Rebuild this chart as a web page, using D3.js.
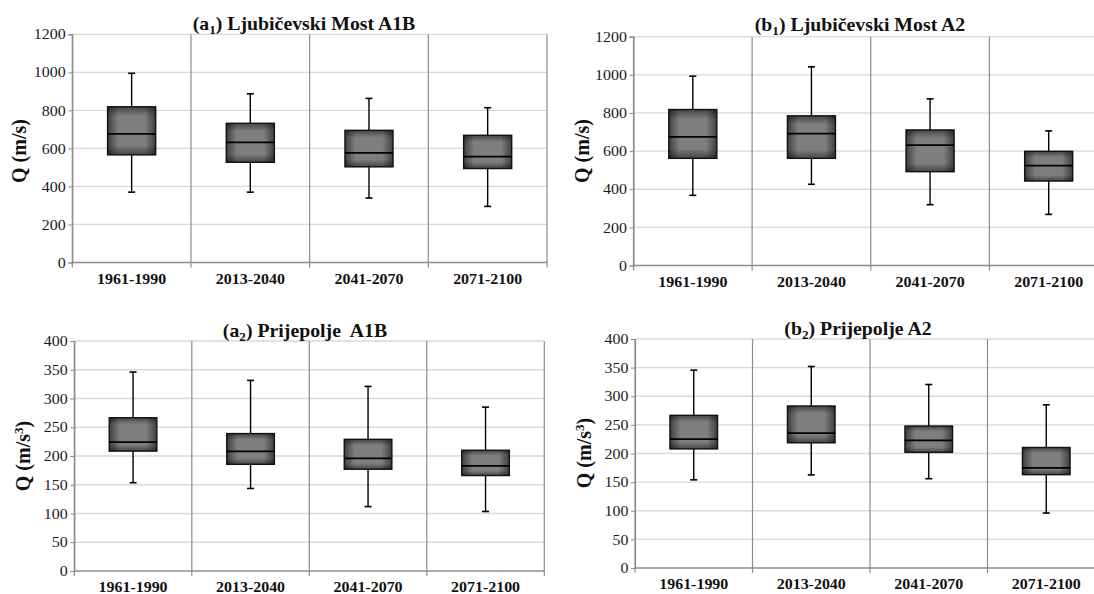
<!DOCTYPE html>
<html>
<head>
<meta charset="utf-8">
<script src="https://cdn.jsdelivr.net/npm/d3@7"></script>
<style>
  html, body { margin: 0; padding: 0; background: #fff; }
  svg { display: block; }
  svg text { font-family: "Liberation Serif", "Times New Roman", serif; }
</style>
</head>
<body>
<svg id="chart" width="1094" height="594"></svg>
<script>
// ---- data ----
const categories = ["1961-1990", "2013-2040", "2041-2070", "2071-2100"];

const a1Min = [370, 370, 339, 295];
const a1Q1  = [566, 527, 503, 494];
const a1Med = [676, 632, 576, 557];
const a1Q3  = [819, 732, 695, 669];
const a1Max = [995, 887, 863, 814];

const b1Min = [368, 426, 319, 268];
const b1Q1  = [562, 562, 492, 443];
const b1Med = [675, 692, 631, 524];
const b1Q3  = [818, 785, 711, 599];
const b1Max = [993, 1042, 874, 706];

const a2Min = [153.5, 143.5, 112, 103.5];
const a2Q1  = [208.5, 185.5, 177, 166];
const a2Med = [224, 208, 196, 183];
const a2Q3  = [266.5, 239, 229, 210];
const a2Max = [346, 331.5, 321, 285];

const b2Min = [154, 162.6, 156, 96];
const b2Q1  = [208, 218.7, 202, 163];
const b2Med = [225, 235.7, 223, 175];
const b2Q3  = [266.7, 283, 248, 210.5];
const b2Max = [345.6, 352, 320.5, 285];

const ticksMost = [0, 200, 400, 600, 800, 1000, 1200];
const ticksPrij = [0, 50, 100, 150, 200, 250, 300, 350, 400];

const titles = ["Ljubičevski Most A1B", "Ljubičevski Most A2", "Prijepolje  A1B", "Prijepolje A2"];

// ---- layout ----
const panels = [
  { id: "a", sub: "1", title: titles[0], unitSup: false, ticks: ticksMost,
    mn: a1Min, q1: a1Q1, md: a1Med, q3: a1Q3, mx: a1Max,
    x0: 72.3, x1: 547, y0: 34.3, y1: 262.5, tx: 304, ty: 30, lx: 19, ly: 151 },
  { id: "b", sub: "1", title: titles[1], unitSup: false, ticks: ticksMost,
    mn: b1Min, q1: b1Q1, md: b1Med, q3: b1Q3, mx: b1Max,
    x0: 633.5, x1: 1108, y0: 36.7, y1: 265.5, tx: 860, ty: 31, lx: 582, ly: 151 },
  { id: "a", sub: "2", title: titles[2], unitSup: true, ticks: ticksPrij,
    mn: a2Min, q1: a2Q1, md: a2Med, q3: a2Q3, mx: a2Max,
    x0: 74.3, x1: 544.3, y0: 341, y1: 571, tx: 305, ty: 337, lx: 23, ly: 456 },
  { id: "b", sub: "2", title: titles[3], unitSup: true, ticks: ticksPrij,
    mn: b2Min, q1: b2Q1, md: b2Med, q3: b2Q3, mx: b2Max,
    x0: 635, x1: 1105, y0: 339, y1: 568, tx: 858, ty: 335, lx: 584, ly: 453 }
];

const svg = d3.select("#chart");
const serif = "'Liberation Serif', 'Times New Roman', serif";
const SX = 1.1; // reference text is slightly wide

// gradients for the box shading
const defs = svg.append("defs");
const gH = defs.append("linearGradient").attr("id", "shadeH").attr("x1", 0).attr("x2", 1).attr("y1", 0).attr("y2", 0);
gH.append("stop").attr("offset", 0).attr("stop-color", "#000").attr("stop-opacity", 0.5);
gH.append("stop").attr("offset", 0.22).attr("stop-color", "#000").attr("stop-opacity", 0);
gH.append("stop").attr("offset", 0.78).attr("stop-color", "#000").attr("stop-opacity", 0);
gH.append("stop").attr("offset", 1).attr("stop-color", "#000").attr("stop-opacity", 0.5);
const gV = defs.append("linearGradient").attr("id", "shadeV").attr("x1", 0).attr("x2", 0).attr("y1", 0).attr("y2", 1);
gV.append("stop").attr("offset", 0).attr("stop-color", "#000").attr("stop-opacity", 0.45);
gV.append("stop").attr("offset", 0.2).attr("stop-color", "#000").attr("stop-opacity", 0);
gV.append("stop").attr("offset", 0.8).attr("stop-color", "#000").attr("stop-opacity", 0);
gV.append("stop").attr("offset", 1).attr("stop-color", "#000").attr("stop-opacity", 0.45);

panels.forEach(p => {
  const g = svg.append("g");
  const x = d3.scaleBand().domain(categories).range([p.x0, p.x1]).paddingInner(0).paddingOuter(0);
  const y = d3.scaleLinear().domain([p.ticks[0], p.ticks[p.ticks.length - 1]]).range([p.y1, p.y0]);

  // horizontal gridlines
  g.selectAll(".hg").data(p.ticks.slice(1)).enter().append("line")
    .attr("x1", p.x0).attr("x2", p.x1)
    .attr("y1", d => y(d)).attr("y2", d => y(d))
    .attr("stroke", "#d9d9d9").attr("stroke-width", 1.3);

  // vertical category separators (with tick marks below axis)
  const bounds = categories.map(c => x(c)).concat([p.x1]);
  g.selectAll(".vg").data(bounds).enter().append("line")
    .attr("x1", d => d).attr("x2", d => d)
    .attr("y1", p.y0).attr("y2", p.y1 + 5)
    .attr("stroke", "#8c8c8c").attr("stroke-width", 1.2);

  // x axis line
  g.append("line").attr("x1", p.x0).attr("x2", p.x1)
    .attr("y1", p.y1).attr("y2", p.y1)
    .attr("stroke", "#8c8c8c").attr("stroke-width", 1.3);

  // y axis via d3
  const yAxis = d3.axisLeft(y).tickValues(p.ticks).tickSize(4).tickPadding(2).tickFormat(d3.format("d"));
  const ya = g.append("g").attr("transform", `translate(${p.x0},0)`).call(yAxis)
    .attr("font-family", null).attr("font-size", null);
  ya.select(".domain").attr("stroke", "#8c8c8c").attr("stroke-width", 1.2);
  ya.selectAll(".tick line").attr("stroke", "#8c8c8c");
  ya.selectAll(".tick text").style("font-family", serif).style("font-size", "14.5px")
    .attr("fill", "#1a1a1a").attr("transform", `scale(${SX},1)`);

  // x labels
  g.selectAll(".xl").data(categories).enter().append("text")
    .attr("transform", d => `translate(${x(d) + x.bandwidth() / 2},${p.y1 + 21}) scale(${SX},1)`)
    .attr("text-anchor", "middle")
    .style("font-family", serif).style("font-size", "14.5px").style("font-weight", "bold")
    .attr("fill", "#111")
    .text(d => d);

  // boxes
  const bw = x.bandwidth() * 0.405;
  const capW = 7;
  categories.forEach((c, i) => {
    const cx = x(c) + x.bandwidth() / 2;
    g.append("line").attr("x1", cx).attr("x2", cx).attr("y1", y(p.mx[i])).attr("y2", y(p.q3[i]))
      .attr("stroke", "#000").attr("stroke-width", 1.4);
    g.append("line").attr("x1", cx).attr("x2", cx).attr("y1", y(p.q1[i])).attr("y2", y(p.mn[i]))
      .attr("stroke", "#000").attr("stroke-width", 1.4);
    g.append("line").attr("x1", cx - capW / 2).attr("x2", cx + capW / 2).attr("y1", y(p.mx[i])).attr("y2", y(p.mx[i]))
      .attr("stroke", "#000").attr("stroke-width", 1.6);
    g.append("line").attr("x1", cx - capW / 2).attr("x2", cx + capW / 2).attr("y1", y(p.mn[i])).attr("y2", y(p.mn[i]))
      .attr("stroke", "#000").attr("stroke-width", 1.6);
    const bx = cx - bw / 2, by = y(p.q3[i]), bh = y(p.q1[i]) - y(p.q3[i]);
    g.append("rect").attr("x", bx).attr("y", by).attr("width", bw).attr("height", bh).attr("fill", "#7e7e7e");
    g.append("rect").attr("x", bx).attr("y", by).attr("width", bw).attr("height", bh).attr("fill", "url(#shadeH)");
    g.append("rect").attr("x", bx).attr("y", by).attr("width", bw).attr("height", bh).attr("fill", "url(#shadeV)");
    g.append("rect").attr("x", bx).attr("y", by).attr("width", bw).attr("height", bh)
      .attr("fill", "none").attr("stroke", "#111").attr("stroke-width", 1.4);
    g.append("line").attr("x1", bx).attr("x2", bx + bw).attr("y1", y(p.md[i])).attr("y2", y(p.md[i]))
      .attr("stroke", "#000").attr("stroke-width", 1.8);
  });

  // title
  const t = g.append("text").attr("transform", `translate(${p.tx},${p.ty}) scale(${SX},1)`)
    .attr("text-anchor", "middle")
    .style("font-family", serif).style("font-size", "18px").style("font-weight", "bold").attr("fill", "#111")
    .attr("xml:space", "preserve");
  t.append("tspan").text("(" + p.id);
  t.append("tspan").style("font-size", "12px").attr("dy", 4).text(p.sub);
  t.append("tspan").attr("dy", -4).text(") " + p.title);

  // y label
  const yl = g.append("text")
    .attr("transform", `translate(${p.lx},${p.ly}) rotate(-90)`)
    .attr("text-anchor", "middle").attr("dy", "0.35em")
    .style("font-family", serif).style("font-size", "20px").style("font-weight", "bold").attr("fill", "#111");
  if (p.unitSup) {
    yl.append("tspan").text("Q (m/s");
    yl.append("tspan").style("font-size", "13px").attr("dy", -7).text("3");
    yl.append("tspan").attr("dy", 7).text(")");
  } else {
    yl.text("Q (m/s)");
  }
});
</script>
</body>
</html>
